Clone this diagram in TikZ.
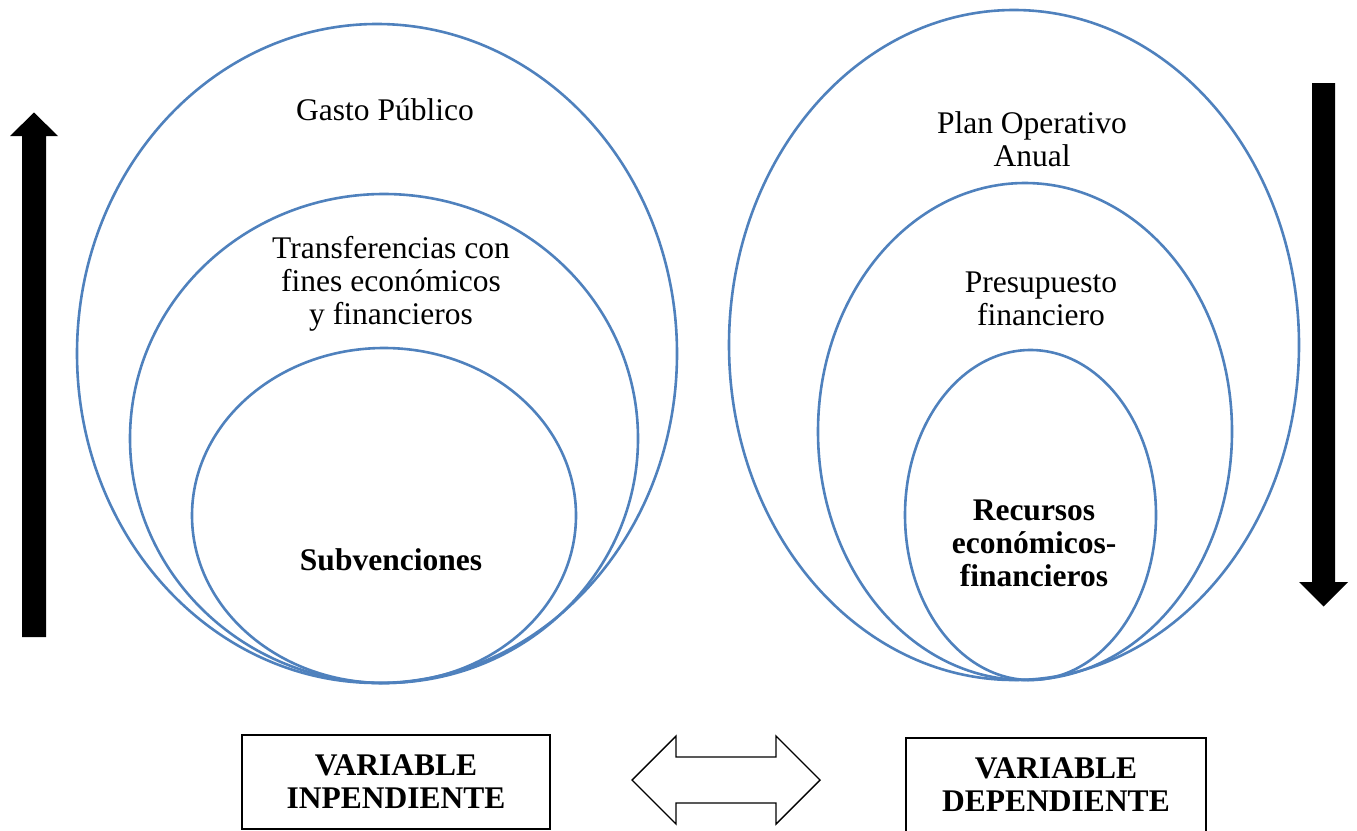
\documentclass[tikz,border=0pt]{standalone}
\usepackage{fontspec}
\setmainfont{Liberation Serif}
\definecolor{ringblue}{RGB}{79,129,189}
\tikzset{
  ring/.style={draw=ringblue, line width=2.6pt},
  ringtext/.style={font=\fontsize{31.5}{33}\selectfont, align=center, anchor=base, inner sep=0pt},
  ringbold/.style={ringtext, font=\fontsize{31.5}{33}\selectfont\bfseries},
  varbox/.style={draw, line width=1.4pt, minimum height=94pt, inner sep=0pt,
    align=center, font=\fontsize{31.5}{33}\selectfont\bfseries},
  blockarrow/.style={fill=black}
}
\begin{document}
\begin{tikzpicture}[x=1pt, y=-1pt]
  \useasboundingbox (0,0) rectangle (1357,830);

  % independent variable: nested rings
  \draw[ring] (377,353.5) ellipse [x radius=300pt, y radius=329.5pt];
  \draw[ring] (384,438.5) ellipse [x radius=254pt, y radius=244.5pt];
  \draw[ring] (384,515.5) ellipse [x radius=192pt, y radius=167.5pt];
  \node[ringtext] (gasto) at (385,120) {Gasto Público};
  \node[ringtext] (transf) at (391,324) {Transferencias con\\fines económicos\\y financieros};
  \node[ringbold] (subv) at (391,570) {Subvenciones};

  % dependent variable: nested rings
  \draw[ring] (1014,345) ellipse [x radius=285pt, y radius=335pt];
  \draw[ring] (1025,431.5) ellipse [x radius=207pt, y radius=248.5pt];
  \draw[ring] (1030.5,515) ellipse [x radius=125.5pt, y radius=165pt];
  \node[ringtext] (poa) at (1032,166) {Plan Operativo\\Anual};
  \node[ringtext] (presup) at (1041,325) {Presupuesto\\financiero};
  \node[ringbold] (recursos) at (1034,586) {Recursos\\económicos-\\financieros};

  % side arrows
  \fill[blockarrow] (22,637) -- (22,136) -- (10,136) -- (34,112.5)
    -- (58,136) -- (46,136) -- (46,637) -- cycle;
  \fill[blockarrow] (1312,83) -- (1312,582) -- (1299,582) -- (1323.5,606.5)
    -- (1348,582) -- (1335,582) -- (1335,83) -- cycle;

  % variable boxes
  \node[varbox, minimum width=308pt] (indep) at (396,782) {VARIABLE\\INPENDIENTE};
  \node[varbox, minimum width=300pt] (dep) at (1056,785) {VARIABLE\\DEPENDIENTE};

  % double arrow between the boxes
  \coordinate (ltip) at (632,780);
  \coordinate (rtip) at (820,780);
  \draw[line width=1.4pt, line join=miter] (ltip) -- (676,736) -- (676,757) -- (776,757)
    -- (776,736) -- (rtip) -- (776,824) -- (776,803) -- (676,803) -- (676,824) -- cycle;
\end{tikzpicture}
\end{document}
